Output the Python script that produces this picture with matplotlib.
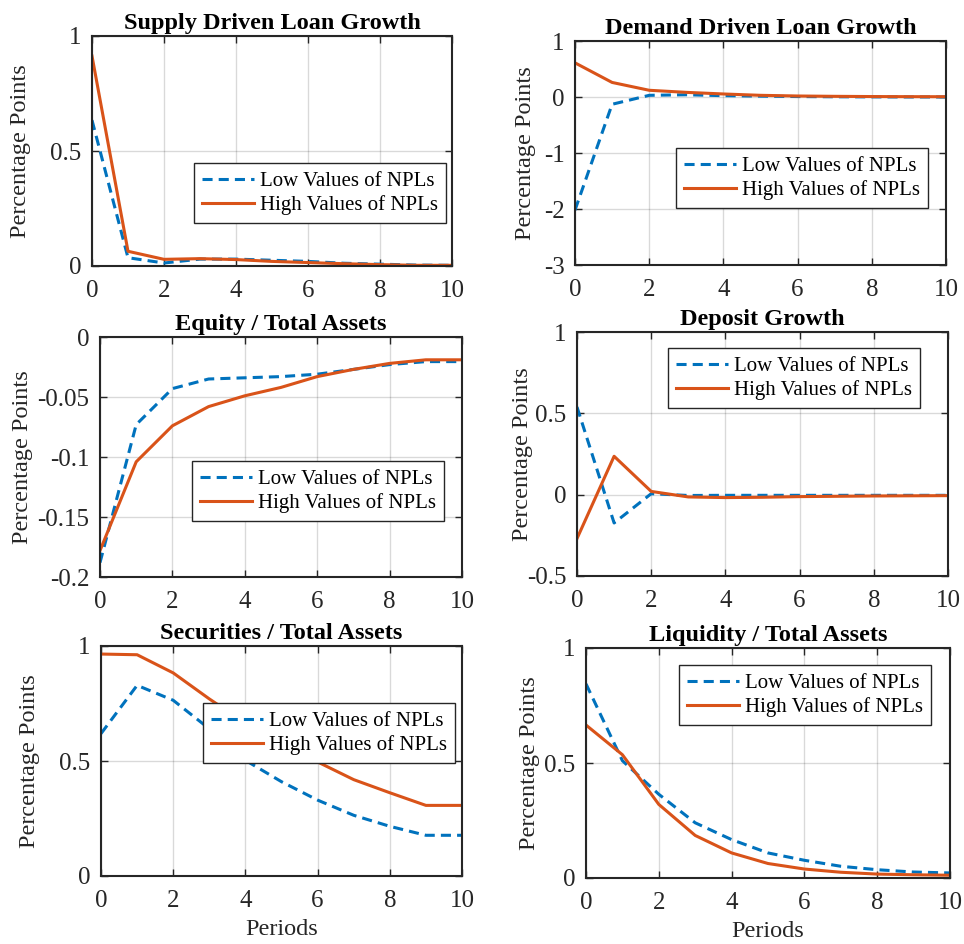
import matplotlib
matplotlib.use("Agg")
import matplotlib.pyplot as plt
from matplotlib.ticker import FormatStrFormatter
import numpy as np

plt.rcParams['font.family'] = ['Liberation Serif', 'DejaVu Serif']

# Données
periods = np.arange(0, 11)

supply_low = [0.634, 0.036, 0.013, 0.030, 0.030, 0.025, 0.020, 0.012, 0.008, 0.004, 0.003]
supply_high = [0.913, 0.064, 0.029, 0.032, 0.028, 0.020, 0.015, 0.010, 0.006, 0.003, 0.003]

demand_low = [-2.02, -0.13, 0.03, 0.04, 0.024, 0.015, 0.008, 0.004, 0.002, 0.0, 0.0]
demand_high = [0.61, 0.26, 0.12, 0.083, 0.054, 0.03, 0.018, 0.012, 0.008, 0.006, 0.005]

equity_low = [-0.188, -0.073, -0.043, -0.035, -0.034, -0.033, -0.031, -0.027, -0.023, -0.0205, -0.0205]
equity_high = [-0.178, -0.104, -0.074, -0.058, -0.049, -0.042, -0.033, -0.027, -0.022, -0.019, -0.019]

deposit_low = [0.539, -0.174, 0.006, -0.005, -0.004, -0.004, -0.004, -0.004, -0.004, -0.004, -0.004]
deposit_high = [-0.27, 0.236, 0.02, -0.014, -0.018, -0.016, -0.012, -0.010, -0.008, -0.007, -0.006]

securities_low = [0.619, 0.829, 0.764, 0.64, 0.503, 0.41, 0.33, 0.264, 0.216, 0.177, 0.177]
securities_high = [0.965, 0.962, 0.883, 0.77, 0.665, 0.58, 0.496, 0.419, 0.362, 0.307, 0.307]

liquidity_low = [0.844, 0.51, 0.364, 0.24, 0.167, 0.109, 0.077, 0.051, 0.036, 0.026, 0.022]
liquidity_high = [0.665, 0.536, 0.32, 0.185, 0.109, 0.063, 0.039, 0.025, 0.017, 0.014, 0.012]

titles = ["Supply Driven Loan Growth", "Demand Driven Loan Growth",
          "Equity / Total Assets", "Deposit Growth",
          "Securities / Total Assets", "Liquidity / Total Assets"]
low_series = [supply_low, demand_low, equity_low, deposit_low, securities_low, liquidity_low]
high_series = [supply_high, demand_high, equity_high, deposit_high, securities_high, liquidity_high]
y_ticks = [[0, 0.5, 1], [-3, -2, -1, 0, 1], [-0.2, -0.15, -0.1, -0.05, 0],
           [-0.5, 0, 0.5, 1], [0, 0.5, 1], [0, 0.5, 1]]

W, H = 964, 944
# (gauche, droite, haut, bas) en pixels
boxes = [(92, 452, 36, 266), (575, 946, 41, 265),
         (100, 462, 337, 577), (577, 948, 332, 576),
         (101, 462, 646, 876), (586, 950, 648, 878)]
# coin haut-gauche des légendes en pixels
legend_pos = [(194, 163), (676, 148), (192, 461), (668, 348), (203, 703), (679, 665)]
# bord droit du titre de l'axe y, en pixels
ylabel_x = [31, 536, 33, 533, 40, 540]

blue = "#0072BD"
orange = "#D95319"

fig = plt.figure(figsize=(W / 100, H / 100), dpi=100)

for i in range(6):
    l, r, t, b = boxes[i]
    ax = fig.add_axes([l / W, 1 - b / H, (r - l) / W, (b - t) / H])
    ax.plot(periods, low_series[i], color=blue, lw=2.2, ls=(0, (3.3, 2)), label="Low Values of NPLs")
    ax.plot(periods, high_series[i], color=orange, lw=2.2, label="High Values of NPLs")
    ax.set_xlim(0, 10)
    ax.set_ylim(y_ticks[i][0], y_ticks[i][-1])
    ax.set_xticks(np.arange(0, 11, 2))
    ax.set_yticks(y_ticks[i])
    ax.yaxis.set_major_formatter(FormatStrFormatter('%g'))
    ax.tick_params(direction='in', top=True, right=True, labelsize=18, length=5,
                   width=1, color='#262626', labelcolor='#262626')
    ax.tick_params(axis='x', pad=10)
    ax.tick_params(axis='y', pad=7.5)
    ax.grid(True, color='black', alpha=0.15, lw=1)
    for s in ax.spines.values():
        s.set_linewidth(1.5)
        s.set_color('#262626')
    ax.set_title(titles[i], fontsize=17.5, fontweight='bold', pad=5)
    ax.set_ylabel("Percentage Points", fontsize=17.5, color='#262626')
    ax.yaxis.set_label_coords(ylabel_x[i] / W, 1 - (t + b) / 2 / H, transform=fig.transFigure)
    if i >= 4:
        ax.set_xlabel("Periods", fontsize=17.5, color='#262626', labelpad=5)
    lx, ly = legend_pos[i]
    leg = ax.legend(loc='upper left', bbox_to_anchor=(lx / W, 1 - ly / H),
                    bbox_transform=fig.transFigure, fontsize=15, fancybox=False,
                    framealpha=1, edgecolor='#262626', borderaxespad=0,
                    handlelength=2.5, handletextpad=0.25, borderpad=0.4,
                    labelspacing=0.2)
    leg.get_frame().set_linewidth(1)

plt.savefig("out.png", dpi=100)
